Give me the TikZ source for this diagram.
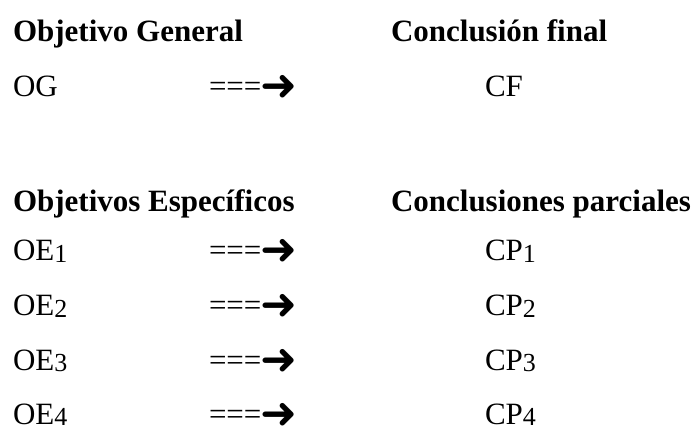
\documentclass[tikz,border=0pt]{standalone}
\usepackage{fontspec}
\setmainfont{Liberation Serif}
\newfontfamily\symfont{DejaVu Sans}
\newcommand{\mysub}[1]{\raisebox{-1.5pt}{\fontsize{26}{26}\selectfont #1}}
\newcommand{\myarrow}{===\kern-1pt\raisebox{-4pt}{\symfont\fontsize{44}{44}\selectfont ➜}}
\begin{document}
\begin{tikzpicture}[x=1pt,y=-1pt,
  lbl/.style={anchor=base west,inner sep=0pt,outer sep=0pt,font=\fontsize{31}{31}\selectfont},
  hdr/.style={lbl,font=\fontsize{31}{31}\selectfont\bfseries}]
\useasboundingbox (0,0) rectangle (696,431);
\node[hdr] (hOG) at (13,41.5) {Objetivo General};
\node[hdr] (hCF) at (391,41.5) {Conclusión final};
\node[lbl] (OG) at (13,96) {OG};
\node[lbl] (aOG) at (209,96) {\myarrow};
\node[lbl] (CF) at (485,96) {CF};
\node[hdr] (hOE) at (13,211.5) {Objetivos Específicos};
\node[hdr] (hCP) at (391,211.5) {Conclusiones parciales};
\foreach \i/\y in {1/260.5,2/315.5,3/370,4/424}{
  \node[lbl] (OE\i) at (13,\y) {OE\mysub{\i}};
  \node[lbl] (a\i) at (209,\y) {\myarrow};
  \node[lbl] (CP\i) at (485,\y) {CP\mysub{\i}};
}
\end{tikzpicture}
\end{document}
